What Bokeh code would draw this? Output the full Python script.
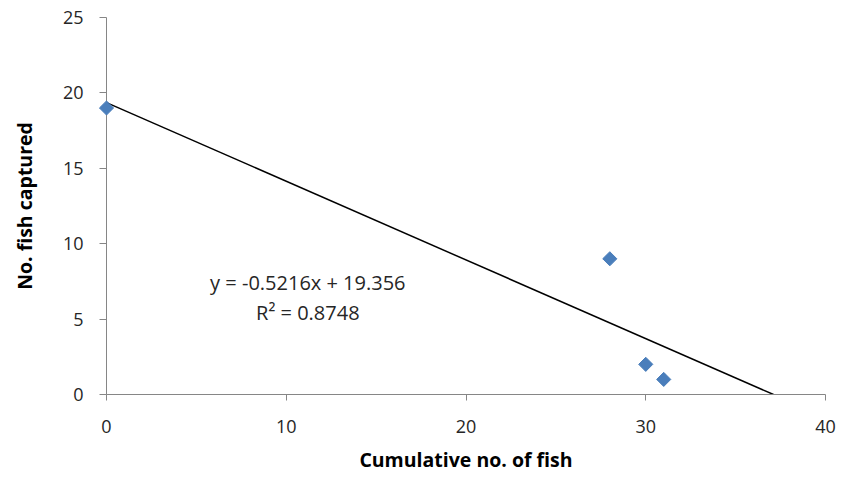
import numpy as np
from bokeh.plotting import figure
from bokeh.models import FixedTicker, Range1d, ColumnDataSource
from bokeh.core.properties import value
from bokeh.embed import file_html
from bokeh.resources import INLINE

# data
cumulative = [0, 28, 30, 31]
captured = [19, 9, 2, 1]
x_ticks = [0, 10, 20, 30, 40]
y_ticks = [0, 5, 10, 15, 20, 25]
x_title = "Cumulative no. of fish"
y_title = "No. fish captured"

# linear regression (trendline)
xs = np.array(cumulative, dtype=float)
ys = np.array(captured, dtype=float)
slope, intercept = np.polyfit(xs, ys, 1)
pred = slope * xs + intercept
r2 = 1 - np.sum((ys - pred) ** 2) / np.sum((ys - ys.mean()) ** 2)
x_end = -intercept / slope
eq_text = f"y = {slope:.4f}x + {intercept:.3f}"
r2_text = f"R\u00b2 = {r2:.4f}"

FONT = "Open Sans"
AXIS_COL = "#868686"
TEXT_COL = "#262626"

p = figure(width=844, height=477, output_backend="svg", toolbar_location=None,
           x_range=Range1d(0, 40), y_range=Range1d(0, 25),
           min_border_left=106, min_border_right=19, min_border_top=17, min_border_bottom=83)
p.outline_line_color = None
p.grid.visible = False
p.background_fill_color = "white"
p.border_fill_color = "white"

# trendline
p.line([xs.min(), x_end], [slope * xs.min() + intercept, 0], line_color="black", line_width=1.5)

# points
src = ColumnDataSource(dict(x=cumulative, y=captured))
p.scatter("x", "y", source=src, marker="square", angle=np.pi / 4, size=10,
          fill_color="#4A7EBB", line_color="#4A7EBB", level="overlay")

# equation labels
p.text(x=[11.2], y=[7.43], text=[eq_text], text_font=value(FONT), text_font_size="20px",
       text_align="center", text_baseline="middle", text_color=TEXT_COL)
p.text(x=[11.2], y=[5.44], text=[r2_text], text_font=value(FONT), text_font_size="20px",
       text_align="center", text_baseline="middle", text_color=TEXT_COL)

for ax in (p.xaxis[0], p.yaxis[0]):
    ax.axis_line_color = AXIS_COL
    ax.major_tick_line_color = AXIS_COL
    ax.minor_tick_line_color = None
    ax.major_tick_in = 0
    ax.major_label_text_font = FONT
    ax.major_label_text_font_size = "18px"
    ax.major_label_text_color = TEXT_COL
    ax.axis_label_text_font = FONT
    ax.axis_label_text_font_size = "19.5px"
    ax.axis_label_text_font_style = "bold"
    ax.axis_label_text_color = "black"

p.xaxis[0].ticker = FixedTicker(ticks=x_ticks)
p.yaxis[0].ticker = FixedTicker(ticks=y_ticks)
p.xaxis[0].major_tick_out = 6
p.yaxis[0].major_tick_out = 7
p.xaxis[0].major_label_standoff = 19
p.yaxis[0].major_label_standoff = 16
p.xaxis[0].axis_label = x_title
p.yaxis[0].axis_label = y_title
p.xaxis[0].axis_label_standoff = 10
p.yaxis[0].axis_label_standoff = 22

open("out.html", "w").write(file_html(p, INLINE))
